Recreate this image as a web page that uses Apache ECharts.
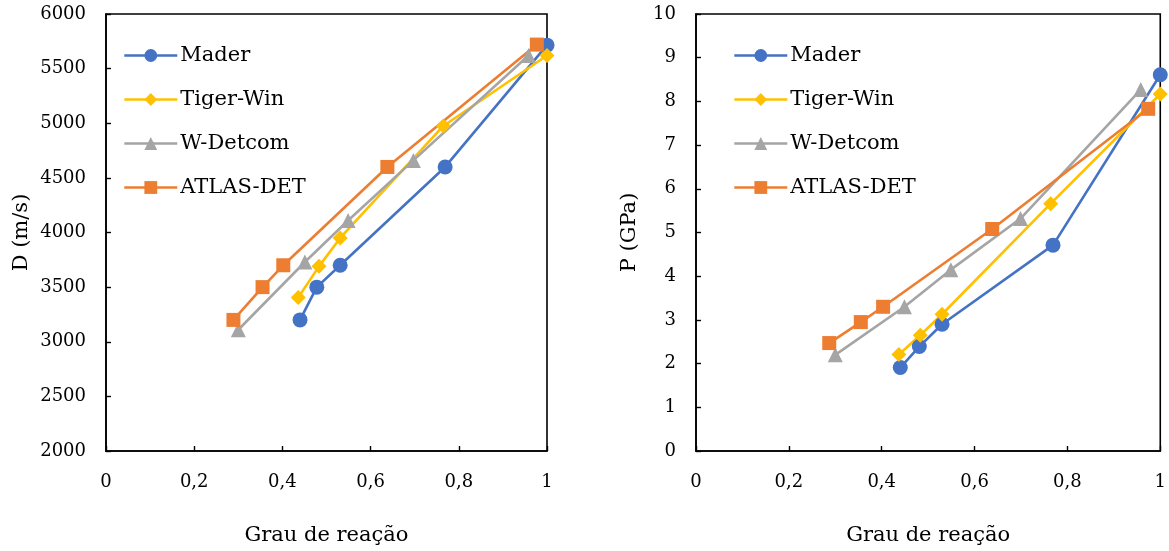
<!DOCTYPE html>
<html>
<head>
<meta charset="utf-8">
<script src="https://cdn.jsdelivr.net/npm/echarts@6/dist/echarts.min.js"></script>
<style>
html,body{margin:0;padding:0;background:#fff;}
#c{width:1169px;height:551px;}
</style>
</head>
<body>
<div id="c"></div>
<script>
// ---- data ----
const seriesNames = ['Mader', 'Tiger-Win', 'W-Detcom', 'ATLAS-DET'];

// Left chart: detonation velocity D (m/s) vs reaction degree
const maderX_D = [0.44, 0.478, 0.531, 0.769, 1.0];
const maderD   = [3200, 3500, 3700, 4600, 5715];
const tigerX_D = [0.436, 0.483, 0.531, 0.765, 1.0];
const tigerD   = [3405, 3690, 3950, 4975, 5620];
const wdetX_D  = [0.30, 0.451, 0.549, 0.697, 0.958];
const wdetD    = [3110, 3730, 4110, 4660, 5620];
const atlasX_D = [0.289, 0.355, 0.402, 0.638, 0.977];
const atlasD   = [3200, 3500, 3700, 4600, 5720];

// Right chart: detonation pressure P (GPa) vs reaction degree
const maderX_P = [0.44, 0.481, 0.53, 0.769, 1.0];
const maderP   = [1.91, 2.39, 2.90, 4.71, 8.61];
const tigerX_P = [0.437, 0.483, 0.53, 0.764, 1.0];
const tigerP   = [2.21, 2.65, 3.13, 5.66, 8.17];
const wdetX_P  = [0.30, 0.449, 0.549, 0.699, 0.958];
const wdetP    = [2.2, 3.3, 4.15, 5.32, 8.27];
const atlasX_P = [0.287, 0.355, 0.403, 0.638, 0.974];
const atlasP   = [2.47, 2.95, 3.30, 5.08, 7.83];

const xTicks = [0, 0.2, 0.4, 0.6, 0.8, 1];
const dTicks = [2000, 6000, 500];
const pTicks = [0, 10, 1];

// ---- styles ----
const FONT = 'DejaVu Serif';
const colors = ['#4472C4', '#FFC000', '#A5A5A5', '#ED7D31'];
const symbols = ['circle', 'diamond', 'triangle', 'rect'];
const sizes = [15, 15, 15, 14];

function pairs(xs, ys) { return xs.map((x, i) => [x, ys[i]]); }

const leftData = [pairs(maderX_D, maderD), pairs(tigerX_D, tigerD), pairs(wdetX_D, wdetD), pairs(atlasX_D, atlasD)];
const rightData = [pairs(maderX_P, maderP), pairs(tigerX_P, tigerP), pairs(wdetX_P, wdetP), pairs(atlasX_P, atlasP)];

function mkSeries(dataSets, idx) {
  return dataSets.map((d, i) => ({
    name: seriesNames[i],
    type: 'line',
    xAxisIndex: idx, yAxisIndex: idx,
    data: d,
    symbol: symbols[i],
    symbolSize: sizes[i],
    clip: false,
    lineStyle: { color: colors[i], width: 2.6 },
    itemStyle: { color: colors[i] },
    emphasis: { disabled: true },
    animation: false
  }));
}

const axisCommon = {
  axisLine: { show: true, onZero: false, lineStyle: { color: '#000', width: 1.6 } },
  axisTick: { show: true, inside: true, length: 5, lineStyle: { color: '#000', width: 1.4 } },
  splitLine: { show: false },
  axisLabel: { color: '#000', fontFamily: FONT, fontSize: 18 },
  nameTextStyle: { color: '#000', fontFamily: FONT, fontSize: 21 }
};

function xAxis(gi) {
  return Object.assign({}, JSON.parse(JSON.stringify(axisCommon)), {
    type: 'value', gridIndex: gi, min: xTicks[0], max: xTicks[xTicks.length - 1], interval: xTicks[1] - xTicks[0],
    name: 'Grau de reação', nameLocation: 'middle', nameGap: 74,
    axisLabel: Object.assign({}, axisCommon.axisLabel, { margin: 22,
      formatter: v => String(Math.round(v * 10) / 10).replace('.', ',') })
  });
}
function yAxis(gi, t, name, gap) {
  return Object.assign({}, JSON.parse(JSON.stringify(axisCommon)), {
    type: 'value', gridIndex: gi, min: t[0], max: t[1], interval: t[2],
    name: name, nameLocation: 'middle', nameGap: gap, nameRotate: 90,
    axisLabel: Object.assign({}, axisCommon.axisLabel, { margin: 20, formatter: v => String(v) })
  });
}

function legend(left) {
  return {
    data: seriesNames, orient: 'vertical', left: left, top: 40,
    itemWidth: 53, itemHeight: 16, itemGap: 23,
    lineStyle: { width: 2.6 },
    textStyle: { color: '#000', fontFamily: FONT, fontSize: 21, padding: [0, 0, 0, -2] },
    selectedMode: false
  };
}

const chart = echarts.init(document.getElementById('c'), null, { renderer: 'canvas' });
chart.setOption({
  backgroundColor: '#fff',
  animation: false,
  legend: [legend(118), legend(728)],
  grid: [
    { left: 106, right: 622, top: 14, bottom: 99, show: true, borderColor: '#000', borderWidth: 1.6, backgroundColor: 'transparent' },
    { left: 696, right: 6, top: 14, bottom: 99, show: true, borderColor: '#000', borderWidth: 1.6, backgroundColor: 'transparent' }
  ],
  xAxis: [xAxis(0), xAxis(1)],
  yAxis: [yAxis(0, dTicks, 'D (m/s)', 74), yAxis(1, pTicks, 'P (GPa)', 56)],
  series: mkSeries(leftData, 0).concat(mkSeries(rightData, 1))
});
</script>
</body>
</html>
